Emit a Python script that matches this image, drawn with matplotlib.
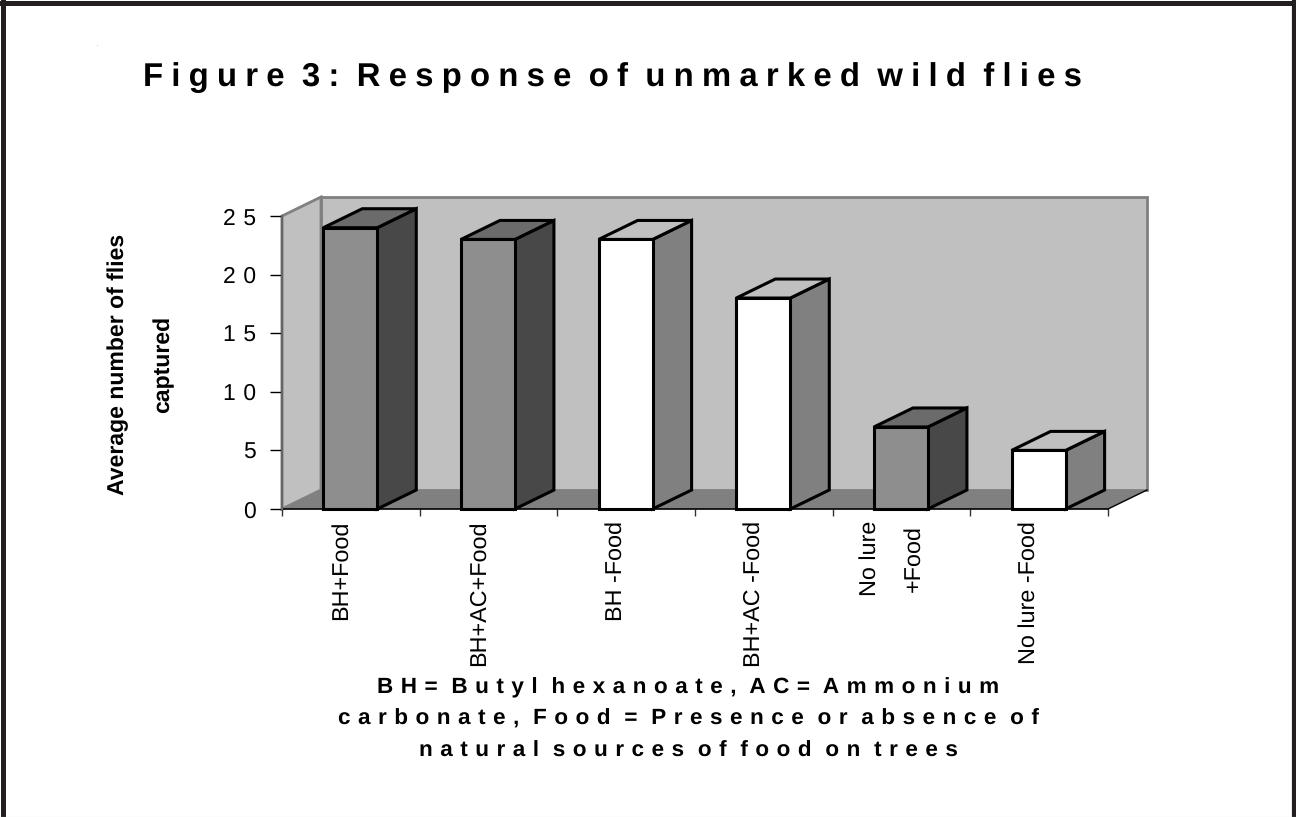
import matplotlib
matplotlib.use('Agg')
import matplotlib.pyplot as plt
from matplotlib.lines import Line2D
from matplotlib.patches import Polygon
from matplotlib.transforms import ScaledTranslation

plt.rcParams['font.family'] = ['Liberation Sans', 'DejaVu Sans']
plt.rcParams['text.hinting'] = 'no_hinting'

# Data
categories = ['BH+Food', 'BH+AC+Food', 'BH -Food', 'BH+AC -Food', 'No lure\n+Food', 'No lure -Food']
values = [24, 23, 23, 18, 7, 5]
food_present = [True, True, False, False, True, False]
y_ticks = [0, 5, 10, 15, 20, 25]
title = 'Figure 3: Response of unmarked wild flies'
ylabel = 'Average number of flies\ncaptured'
caption = ['BH= Butyl hexanoate, AC= Ammonium',
           'carbonate, Food = Presence or absence of',
           'natural sources of food on trees']

W, H = 1296, 817


def track(s, gap):
    # letter spacing, the source has it on most of its text
    return gap.join(s).replace(gap + ' ' + gap, gap + ' ')


def px_x(x):
    return x / W


def px_y(y):
    return 1 - y / H


fig = plt.figure(figsize=(12.96, 8.17), dpi=100, facecolor='white')

# page frame
border = '#231f20'
fig.add_artist(Line2D([0, 1], [px_y(2.5)] * 2, color=border, lw=3.6, transform=fig.transFigure))
fig.add_artist(Line2D([px_x(2.5)] * 2, [0, 1], color=border, lw=3.6, transform=fig.transFigure))
fig.add_artist(Line2D([px_x(1294)] * 2, [0, 1], color=border, lw=3.0, transform=fig.transFigure))
fig.add_artist(Line2D([0, 1], [px_y(816.5)] * 2, color='#d8d8d8', lw=0.8, transform=fig.transFigure))

# axes is the front plane of the 3d box
ax = fig.add_axes([px_x(282), px_y(509), px_x(1108 - 282), (509 - 216) / H])
ax.set_xlim(0, 6)
ax.set_ylim(0, 25)
ax.patch.set_visible(False)

dx = 39 / (826 / 6)   # depth in category units
dy = 19 / (293 / 25)  # depth in value units
bar_start = 0.3
bar_w = 0.392

# walls and floor
ax.add_patch(Polygon([(dx, dy), (6 + dx, dy), (6 + dx, 25 + dy), (dx, 25 + dy)],
                     fc='#c0c0c0', ec='#808080', lw=2, clip_on=False, zorder=1))
ax.add_patch(Polygon([(0, 0), (dx, dy), (dx, 25 + dy), (0, 25)],
                     fc='#c0c0c0', ec='#808080', lw=2, clip_on=False, zorder=1))
ax.add_patch(Polygon([(0, 0), (6, 0), (6 + dx, dy), (dx, dy)],
                     fc='#808080', ec='none', clip_on=False, zorder=1.5))
ax.plot([6, 6 + dx], [0, dy], color='black', lw=1, clip_on=False, zorder=1.6)

# bars
for i, (v, food) in enumerate(zip(values, food_present)):
    x0 = i + bar_start
    x1 = x0 + bar_w
    if food:
        front, top, side = '#8e8e8e', '#6b6b6b', '#484848'
    else:
        front, top, side = 'white', '#c0c0c0', '#808080'
    style = dict(ec='black', lw=2.2, joinstyle='miter', clip_on=False, zorder=3)
    ax.add_patch(Polygon([(x1, 0), (x1 + dx, dy), (x1 + dx, v + dy), (x1, v)], fc=side, **style))
    ax.add_patch(Polygon([(x0, v), (x1, v), (x1 + dx, v + dy), (x0 + dx, v + dy)], fc=top, **style))
    ax.add_patch(Polygon([(x0, 0), (x1, 0), (x1, v), (x0, v)], fc=front, **style))

for s in ['top', 'right']:
    ax.spines[s].set_visible(False)
ax.spines['left'].set_color('#666666')
ax.spines['left'].set_linewidth(1.6)
ax.spines['bottom'].set_color('black')
ax.spines['bottom'].set_linewidth(1.2)
ax.spines['bottom'].set_zorder(2)

ax.set_yticks(y_ticks)
ax.set_yticklabels([track(str(t), '\u2004') for t in y_ticks], fontsize=16.5)
ax.tick_params(axis='y', length=8.6, width=1, pad=10, color='black')

ax.set_xticks(range(7))
ax.set_xticklabels([])
ax.tick_params(axis='x', which='major', length=5, width=1, color='#333333')
ax.set_xticks([i + 0.5 for i in range(6)], minor=True)
ax.set_xticklabels(categories, minor=True, rotation=90, fontsize=16.8, ha='center', va='top',
                   multialignment='center', linespacing=2.33)
ax.tick_params(axis='x', which='minor', length=0, pad=8.5)
shift = ScaledTranslation(-10 / 100, 0, fig.dpi_scale_trans)
for lab in ax.get_xticklabels(minor=True):
    lab.set_transform(lab.get_transform() + shift)

# texts
fig.text(px_x(143), px_y(86), track(title, '\u2005'), fontsize=23.7, fontweight='bold', ha='left', va='baseline')
fig.text(px_x(97), px_y(44), '.', fontsize=4, color='#555555', ha='center', va='center')
fig.text(px_x(141), px_y(364), ylabel, rotation=90, fontsize=16.6, fontweight='bold',
         ha='center', va='center', multialignment='center', linespacing=2.45)
for line, y in zip(caption, [693, 724.5, 757]):
    fig.text(px_x(688), px_y(y), track(line, '\u2004'), fontsize=16.2, fontweight='bold', ha='center', va='baseline')

plt.savefig('out.png', dpi=100)
